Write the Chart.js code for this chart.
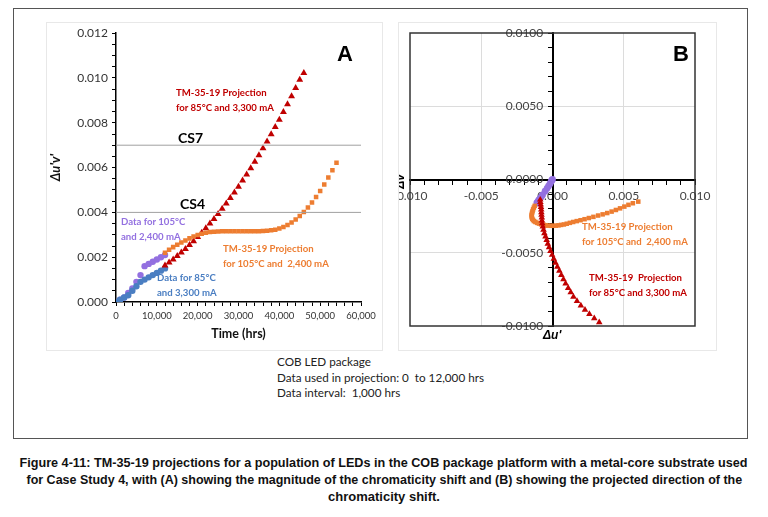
<!DOCTYPE html>
<html>
<head>
<meta charset="utf-8">
<script src="https://cdn.jsdelivr.net/npm/chart.js@4.4.0/dist/chart.umd.min.js"></script>
<style>
  body { margin: 0; background: #fff; width: 768px; height: 517px; position: relative; overflow: hidden; font-family: Lato, "Open Sans", sans-serif; }
  .frame { position: absolute; left: 13px; top: 8px; width: 735px; height: 431px; border: 1.5px solid #555; box-sizing: border-box; }
  .panel { position: absolute; top: 22px; height: 329px; border: 1px solid #e8e8e8; box-sizing: border-box; overflow: hidden; }
  .panel canvas { position: absolute; left: -1px; top: -1px; }
  .note { position: absolute; white-space: nowrap; font-size: 9.6px; font-weight: bold; line-height: 14.5px; }
  .big { position: absolute; font-weight: bold; font-family: "Liberation Sans", Arial, sans-serif; }
  .side { position: absolute; left: 277px; top: 354px; font-size: 11.7px; line-height: 15.5px; color: #222; white-space: nowrap; }
  .capline { position: absolute; left: 0; width: 768px; text-align: center; white-space: nowrap; }
  .capline span { display: inline-block; font-family: "Liberation Sans", Arial, sans-serif; font-weight: bold; font-size: 13px; color: #111; transform-origin: center; }
</style>
</head>
<body>
<div class="frame"></div>

<div class="panel" id="boxA" style="left:46px; width:337px;">
  <canvas id="chartA" width="337" height="329"></canvas>
</div>
<div class="panel" id="boxB" style="left:398px; width:319px;">
  <canvas id="chartB" width="319" height="329"></canvas>
  <div class="big" style="left:-8px; top:150px; font-size:12px; font-style:italic; transform:rotate(-90deg); transform-origin:center;">Δv'</div>
</div>

<!-- panel A notes -->
<div class="big" style="left:337px; top:41px; font-size:22px;">A</div>
<div class="note" style="left:176px; top:86px; color:#C00000;">TM-35-19 Projection<br>for 85°C and 3,300 mA</div>
<div class="big" style="left:178px; top:129px; font-size:14px; font-family:Lato, sans-serif;">CS7</div>
<div class="big" style="left:180px; top:195px; font-size:14px; font-family:Lato, sans-serif;">CS4</div>
<div class="note" style="left:121px; top:215px; color:#9370E0;">Data for 105°C<br>and 2,400 mA</div>
<div class="note" style="left:223px; top:242px; color:#ED7D31;">TM-35-19 Projection<br>for 105°C and&nbsp; 2,400 mA</div>
<div class="note" style="left:157px; top:271px; color:#4A7EC2;">Data for 85°C<br>and 3,300 mA</div>

<!-- panel B notes -->
<div class="big" style="left:673px; top:41px; font-size:22px;">B</div>
<div class="note" style="left:582px; top:220px; color:#ED7D31;">TM-35-19 Projection<br>for 105°C and&nbsp; 2,400 mA</div>
<div class="note" style="left:589px; top:271px; color:#C00000;">TM-35-19&nbsp; Projection<br>for 85°C and 3,300 mA</div>
<div class="big" style="left:543px; top:328px; font-size:12px; font-style:italic;">Δu'</div>

<div class="side">COB LED package<br>Data used in projection: 0&nbsp; to 12,000 hrs<br>Data interval:&nbsp; 1,000 hrs</div>

<div class="capline" style="top:451px;"><span data-w="728">Figure 4-11: TM-35-19 projections for a population of LEDs in the COB package platform with a metal-core substrate used</span></div>
<div class="capline" style="top:468px;"><span data-w="716">for Case Study 4, with (A) showing the magnitude of the chromaticity shift and (B) showing the projected direction of the</span></div>
<div class="capline" style="top:485px;"><span data-w="112">chromaticity shift.</span></div>

<script>
// ---- panel A: magnitude of chromaticity shift vs time ----
const dataHours = [0, 1000, 2000, 3000, 4000, 5000, 6000, 7000, 8000, 9000, 10000, 11000, 12000];
const shift105 = [0, 0.0001, 0.0002, 0.0004, 0.0006, 0.0009, 0.0012, 0.0016, 0.0017, 0.0018, 0.0019, 0.0020, 0.0021];
const shift85 = [0, 0.0001, 0.0002, 0.0003, 0.0005, 0.0007, 0.0009, 0.0010, 0.0011, 0.0012, 0.0013, 0.0014, 0.0015];

const projHours85 = [12000, 13000, 14000, 15000, 16000, 17000, 18000, 19000, 20000, 21000, 22000, 23000,
  24000, 25000, 26000, 27000, 28000, 29000, 30000, 31000, 32000, 33000, 34000, 35000, 36000, 37000,
  38000, 39000, 40000, 41000, 42000, 43000, 44000, 45000, 46000];
const projShift85 = [0.00163, 0.00176, 0.00190, 0.00205, 0.00221, 0.00237, 0.00254, 0.00271, 0.00290, 0.00309,
  0.00329, 0.00350, 0.00371, 0.00393, 0.00416, 0.00440, 0.00464, 0.00489, 0.00515, 0.00542, 0.00569, 0.00597,
  0.00626, 0.00655, 0.00686, 0.00717, 0.00749, 0.00781, 0.00814, 0.00848, 0.00883, 0.00918, 0.00955, 0.00992, 0.01022];

const projHours105 = [12000, 13000, 14000, 15000, 16000, 17000, 18000, 19000, 20000, 21000, 22000, 23000,
  24000, 25000, 26000, 27000, 28000, 29000, 30000, 31000, 32000, 33000, 34000, 35000, 36000, 37000,
  38000, 39000, 40000, 41000, 42000, 43000, 44000, 45000, 46000, 47000, 48000, 49000, 50000, 51000,
  52000, 53000, 54000];
const projShift105 = [0.00220, 0.00233, 0.00245, 0.00256, 0.00266, 0.00275, 0.00284, 0.00292, 0.00299, 0.00305,
  0.00309, 0.00312, 0.00314, 0.00315, 0.00316, 0.00316, 0.00316, 0.00316, 0.00316, 0.00316, 0.00316, 0.00316,
  0.00316, 0.00316, 0.00317, 0.00318, 0.00320, 0.00323, 0.00328, 0.00335, 0.00344, 0.00355, 0.00368, 0.00384,
  0.00402, 0.00422, 0.00444, 0.00469, 0.00496, 0.00525, 0.00556, 0.00588, 0.00622];

const csLevels = [0.004, 0.007];
const timeTicks = [0, 10000, 20000, 30000, 40000, 50000, 60000];
const shiftTicks = [0, 0.002, 0.004, 0.006, 0.008, 0.010, 0.012];

// ---- panel B: direction of the shift (du', dv') ----
const dirU105 = [0, -0.00005, -0.00010, -0.00018, -0.00028, -0.00038, -0.00052, -0.00070, -0.00080, -0.00088, -0.00095, -0.00102, -0.00110];
const dirV105 = [0, -0.00005, -0.00015, -0.00030, -0.00045, -0.00060, -0.00080, -0.00105, -0.00120, -0.00130, -0.00140, -0.00150, -0.00160];

const projU105 = [-0.00125, -0.00131, -0.00136, -0.00140, -0.00143, -0.00145, -0.00146, -0.00146, -0.00145, -0.00142,
  -0.00137, -0.00130, -0.00120, -0.00108, -0.00095, -0.00080, -0.00064, -0.00047, -0.00030, -0.00012, 0.00006,
  0.00024, 0.00042, 0.00060, 0.00080, 0.00100, 0.00122, 0.00145, 0.00170, 0.00197, 0.00225, 0.00255, 0.00287,
  0.00320, 0.00352, 0.00384, 0.00415, 0.00445, 0.00474, 0.00504, 0.00533, 0.00564, 0.00602];
const projV105 = [-0.00180, -0.00192, -0.00204, -0.00216, -0.00226, -0.00235, -0.00244, -0.00252, -0.00260, -0.00268,
  -0.00276, -0.00284, -0.00290, -0.00296, -0.00301, -0.00306, -0.00309, -0.00312, -0.00315, -0.00316, -0.00316,
  -0.00315, -0.00313, -0.00310, -0.00307, -0.00302, -0.00296, -0.00290, -0.00284, -0.00278, -0.00271, -0.00263,
  -0.00255, -0.00246, -0.00238, -0.00229, -0.00219, -0.00208, -0.00197, -0.00185, -0.00173, -0.00162, -0.00151];

const projU85 = [-0.00086, -0.00085, -0.00083, -0.00081, -0.00079, -0.00078, -0.00077, -0.00075, -0.00074, -0.00072,
  -0.00068, -0.00063, -0.00057, -0.00049, -0.00041, -0.00033, -0.00024, -0.00014, -0.00003, 0.00009, 0.00021,
  0.00034, 0.00048, 0.00062, 0.00077, 0.00092, 0.00110, 0.00128, 0.00147, 0.00172, 0.00199, 0.00228, 0.00259,
  0.00293, 0.00328];
const projV85 = [-0.00138, -0.00154, -0.00171, -0.00188, -0.00206, -0.00224, -0.00242, -0.00260, -0.00280, -0.00300,
  -0.00322, -0.00344, -0.00367, -0.00390, -0.00414, -0.00439, -0.00463, -0.00489, -0.00515, -0.00542, -0.00569,
  -0.00596, -0.00624, -0.00652, -0.00682, -0.00711, -0.00741, -0.00770, -0.00801, -0.00830, -0.00860, -0.00889,
  -0.00919, -0.00948, -0.00975];

const uTicks = [-0.010, -0.005, 0, 0.005, 0.010];
const vTicks = [-0.010, -0.005, 0, 0.005, 0.010];

// colours
const cPurple = '#9370E0';
const cBlue = '#4A7EC2';
const cRed = '#C00000';
const cOrange = '#ED7D31';

function pairs(xs, ys) {
  return xs.map((x, i) => ({ x: x, y: ys[i] }));
}
function isMajor(list, v) {
  return list.some(t => Math.abs(t - v) < 1e-9);
}

const tickFont = { family: 'Lato, "Open Sans", sans-serif' };

// ---------- chart A ----------
const csDatasets = csLevels.map(level => ({
  data: [{ x: 0, y: level }, { x: 60000, y: level }],
  showLine: true,
  borderColor: '#a0a0a0',
  borderWidth: 1,
  pointRadius: 0
}));

new Chart(document.getElementById('chartA').getContext('2d'), {
  type: 'scatter',
  data: {
    datasets: [
      ...csDatasets,
      { data: pairs(projHours105, projShift105), pointStyle: 'rect', pointRadius: 3.2, backgroundColor: cOrange, borderColor: cOrange, borderWidth: 0 },
      { data: pairs(projHours85, projShift85), pointStyle: 'triangle', pointRadius: 4, backgroundColor: cRed, borderColor: cRed, borderWidth: 0 },
      { data: pairs(dataHours, shift85), pointStyle: 'circle', pointRadius: 3.2, backgroundColor: cBlue, borderColor: cBlue, borderWidth: 0 },
      { data: pairs(dataHours, shift105), pointStyle: 'circle', pointRadius: 3.2, backgroundColor: cPurple, borderColor: cPurple, borderWidth: 0 }
    ]
  },
  options: {
    responsive: false,
    animation: false,
    layout: { padding: { left: 0, top: 11, right: 22, bottom: 0 } },
    plugins: { legend: { display: false }, tooltip: { enabled: false } },
    scales: {
      x: {
        type: 'linear', min: 0, max: 60000,
        afterFit: s => { s.height = 49; },
        ticks: {
          stepSize: 2000, autoSkip: false, maxRotation: 0, padding: 4,
          color: '#333', font: { ...tickFont, size: 9.5 },
          callback: v => isMajor(timeTicks, v) ? v.toLocaleString('en-US') : ''
        },
        grid: { drawOnChartArea: false, tickLength: 4, tickColor: '#000', tickWidth: 1 },
        border: { color: '#000', width: 1.5 },
        title: { display: true, text: 'Time (hrs)', color: '#111', font: { ...tickFont, size: 12.5, weight: 'bold' }, padding: { top: 2, bottom: 10 } }
      },
      y: {
        type: 'linear', min: 0, max: 0.012,
        afterFit: s => { s.width = 70; },
        ticks: {
          stepSize: 0.0005, autoSkip: false, padding: 4,
          color: '#333', font: { ...tickFont, size: 12 },
          callback: v => isMajor(shiftTicks, v) ? v.toFixed(3) : ''
        },
        grid: { drawOnChartArea: false, tickLength: 4, tickColor: '#000', tickWidth: 1 },
        border: { color: '#000', width: 1.5 },
        title: { display: true, text: "Δu'v'", color: '#111', font: { ...tickFont, size: 13, weight: 'bold', style: 'italic' }, padding: { top: 2, bottom: 0 } }
      }
    }
  }
});

// ---------- chart B ----------
const frameB = {
  id: 'frameB',
  afterDraw(chart) {
    const a = chart.chartArea;
    const ctx = chart.ctx;
    ctx.save();
    ctx.strokeStyle = '#333';
    ctx.lineWidth = 1.5;
    ctx.strokeRect(a.left, a.top, a.right - a.left, a.bottom - a.top);
    ctx.restore();
  }
};

function zeroFit(s) {
  s.width = s.isHorizontal() ? s.width : 0;
  s.height = s.isHorizontal() ? 0 : s.height;
  s.paddingLeft = 0; s.paddingRight = 0; s.paddingTop = 0; s.paddingBottom = 0;
}

new Chart(document.getElementById('chartB').getContext('2d'), {
  type: 'scatter',
  data: {
    datasets: [
      { data: pairs(projU85, projV85), pointStyle: 'triangle', pointRadius: 3.8, backgroundColor: cRed, borderColor: cRed, borderWidth: 0 },
      { data: pairs(projU105, projV105), pointStyle: 'rect', pointRadius: 3.2, backgroundColor: cOrange, borderColor: cOrange, borderWidth: 0 },
      { data: pairs(dirU105, dirV105), pointStyle: 'circle', pointRadius: 3.4, backgroundColor: cPurple, borderColor: cPurple, borderWidth: 0 }
    ]
  },
  options: {
    responsive: false,
    animation: false,
    layout: { padding: { left: 12, top: 11, right: 22, bottom: 25 } },
    plugins: { legend: { display: false }, tooltip: { enabled: false } },
    scales: {
      x: {
        type: 'linear', min: -0.01, max: 0.01,
        position: { y: 0 },
        afterFit: zeroFit,
        ticks: {
          stepSize: 0.001, autoSkip: false, maxRotation: 0, padding: 5,
          color: '#444', font: { ...tickFont, size: 12 },
          callback: v => isMajor(uTicks, v) ? v.toFixed(3) : ''
        },
        grid: {
          color: c => (c.tick && isMajor([-0.005, 0.005], c.tick.value)) ? '#dcdcdc' : 'rgba(0,0,0,0)',
          tickLength: 4, tickColor: '#000', tickWidth: 1
        },
        border: { color: '#000', width: 2 }
      },
      y: {
        type: 'linear', min: -0.01, max: 0.01,
        position: { x: 0 },
        afterFit: zeroFit,
        ticks: {
          stepSize: 0.001, autoSkip: false, padding: 3,
          color: '#444', font: { ...tickFont, size: 12 },
          // trailing spaces keep the right-aligned labels clear of the centre axis
          callback: v => isMajor(vTicks, v) ? v.toFixed(4) + '   ' : ''
        },
        grid: {
          color: c => (c.tick && isMajor([-0.005, 0.005], c.tick.value)) ? '#dcdcdc' : 'rgba(0,0,0,0)',
          tickLength: 4, tickColor: '#000', tickWidth: 1
        },
        border: { color: '#000', width: 2 }
      }
    }
  },
  plugins: [frameB]
});

// squeeze the caption lines to the reference widths (condensed face)
document.querySelectorAll('.capline span').forEach(el => {
  const target = parseFloat(el.dataset.w);
  el.style.transform = 'scaleX(' + (target / el.offsetWidth) + ')';
});
</script>
</body>
</html>
